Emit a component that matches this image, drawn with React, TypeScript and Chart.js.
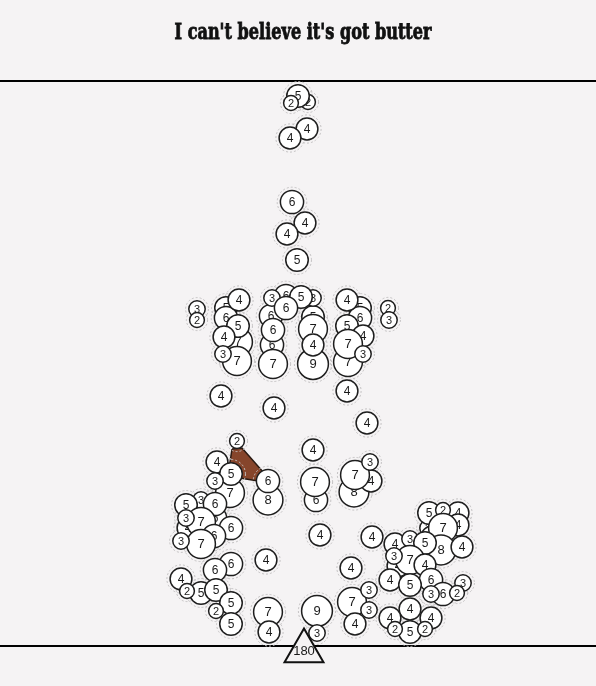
import { useEffect, useRef } from 'react';
import { Chart, registerables, BubbleController } from 'chart.js';

Chart.register(...registerables);

const TITLE = "I can't believe it's got butter";

// bubbles, in drawing order (x position, height above the base line, value shown)
const bubbleX = [
  308, 298, 291, 307, 290, 292, 305, 287, 297,
  286, 271, 313, 313, 272, 313, 272, 301, 286, 273, 273, 313, 313,
  197, 197, 238, 226, 226, 238, 239, 237, 224, 223,
  360, 360, 347, 347, 363, 348, 348, 363, 388, 389,
  221, 274, 347, 367, 313,
  237, 217, 230, 231, 215, 268, 268, 316, 315, 354, 371, 355, 370,
  201, 215, 186, 215, 188, 201, 186, 231, 214, 201, 181,
  320, 372, 266, 351,
  231, 215, 181, 201, 187, 216, 231, 216, 231, 268, 269, 317, 317,
  352, 369, 369, 355,
  458, 428, 432, 425, 429, 443, 458, 443, 441, 462, 395, 410, 425,
  398, 410, 394, 425, 390, 431, 410, 463, 443, 431, 457, 410, 390, 431, 410, 395, 425,
];
const bubbleY = [
  544, 550, 543, 517, 508, 444, 423, 412, 386,
  350, 330, 329, 317, 301, 348, 348, 349, 338, 316, 282, 282, 301,
  337, 326, 304, 338, 328, 320, 346, 285, 309, 292,
  338, 328, 346, 320, 310, 284, 302, 292, 338, 326,
  250, 238, 255, 223, 196,
  205, 184, 153, 172, 165, 146, 165, 146, 164, 154, 165, 171, 184,
  146, 128, 141, 142, 118, 124, 128, 118, 110, 102, 105,
  111, 109, 86, 78,
  82, 76, 67, 53, 55, 56, 43, 35, 22, 34, 14, 35, 13,
  44, 56, 36, 22,
  133, 118, 109, 92, 133, 136, 121, 118, 96, 99, 102, 107, 103,
  80, 86, 90, 81, 66, 66, 61, 63, 52, 52, 53, 37, 28, 28, 14, 17, 17,
];
const bubbleValue = [
  2, 5, 2, 4, 4, 6, 4, 4, 5,
  6, 6, 5, 7, 6, 3, 3, 5, 6, 6, 7, 9, 4,
  3, 2, 7, 5, 6, 5, 4, 7, 4, 3,
  5, 6, 4, 5, 4, 7, 7, 3, 2, 3,
  4, 4, 4, 4, 4,
  2, 4, 7, 5, 3, 8, 6, 6, 7, 8, 4, 7, 3,
  3, 6, 5, 6, 4, 7, 3, 6, 6, 7, 3,
  4, 4, 4, 4,
  6, 6, 4, 5, 2, 5, 5, 2, 5, 7, 4, 9, 3,
  7, 3, 3, 4,
  4, 3, 4, 6, 5, 2, 4, 7, 8, 4, 4, 3, 5,
  4, 7, 3, 4, 4, 6, 5, 3, 6, 3, 2, 4, 4, 4, 5, 2, 2,
];

// triangle marker on the base line
const markerX = [304];
const markerY = [-5];
const markerLabel = ['180'];

// brown shape
const shapeX = [232, 242, 264, 258, 240, 230, 232];
const shapeY = [197, 198, 173, 165, 168, 184, 197];

const BG = '#f5f3f4';

// bubble radius (px) by displayed value
function radiusFor(v: number) {
  if (v <= 2) return 7.4;
  if (v <= 3) return 8.2;
  if (v <= 6) return 10.9 + (v - 4) * 0.35;
  return 14.4 + (v - 7) * 0.5;
}
function fontFor(v: number) {
  if (v <= 3) return 11;
  if (v <= 6) return 12;
  return 13;
}

class LabeledBubbleController extends BubbleController {
  static id = 'labeledBubble';
  static defaults = { ...(BubbleController as any).defaults };
  static overrides = (BubbleController as any).overrides;
  draw() {
    const self: any = this;
    const chart = self.chart;
    const ctx: CanvasRenderingContext2D = chart.ctx;
    const meta = self._cachedMeta;
    const ds: any = self.getDataset();
    const area = chart.chartArea;
    const els: any[] = meta.data;
    if (ds.halo) {
      ctx.save();
      ctx.setLineDash([2, 2]);
      ctx.lineWidth = 1;
      ctx.strokeStyle = '#c4c2c3';
      els.forEach((el) => {
        const r = el.options.radius;
        ctx.beginPath();
        ctx.arc(el.x, el.y, r + 3.2, 0, Math.PI * 2);
        ctx.stroke();
      });
      ctx.restore();
    }
    els.forEach((el, i) => {
      el.draw(ctx, area);
      const lab = ds.valueLabels[i];
      const size = ds.labelSize ? ds.labelSize : fontFor(Number(lab));
      ctx.save();
      ctx.fillStyle = '#1a1a1a';
      ctx.font = `${size}px "Liberation Sans", Arial, sans-serif`;
      ctx.textAlign = 'center';
      ctx.textBaseline = 'middle';
      ctx.fillText(String(lab), el.x, el.y + (ds.labelDy || 0.5));
      ctx.restore();
    });
  }
}
Chart.register(LabeledBubbleController as any);

const framePlugin = {
  id: 'frame',
  beforeDraw(chart: any) {
    const { ctx, width, height } = chart;
    ctx.save();
    ctx.fillStyle = BG;
    ctx.fillRect(0, 0, width, height);
    ctx.restore();
  },
  beforeDatasetsDraw(chart: any) {
    const { ctx, chartArea, width } = chart;
    ctx.save();
    ctx.fillStyle = '#000';
    ctx.fillRect(0, chartArea.top - 1, width, 2);
    ctx.fillRect(0, chartArea.bottom - 1, width, 2);
    ctx.restore();
  },
  afterDraw(chart: any) {
    const { ctx, width } = chart;
    ctx.save();
    ctx.fillStyle = '#111';
    ctx.strokeStyle = '#111';
    ctx.lineWidth = 0.8;
    ctx.font = 'bold 22px "DejaVu Serif Condensed", "DejaVu Serif", serif';
    ctx.textAlign = 'center';
    ctx.textBaseline = 'alphabetic';
    const w = ctx.measureText(TITLE).width;
    const sx = 257 / w;
    ctx.translate(width / 2 + 5, 39);
    ctx.scale(sx, 1);
    ctx.fillText(TITLE, 0, 0);
    ctx.strokeText(TITLE, 0, 0);
    ctx.restore();
  },
};

export default function App() {
  const ref = useRef<HTMLCanvasElement>(null);
  useEffect(() => {
    document.body.style.margin = '0';
    document.body.style.background = BG;
    const bubbles = bubbleX.map((x, i) => ({ x, y: bubbleY[i], r: radiusFor(bubbleValue[i]) }));
    const markers = markerX.map((x, i) => ({ x, y: markerY[i], r: 22.5 }));
    const shape = shapeX.map((x, i) => ({ x, y: shapeY[i] }));
    const chart = new Chart(ref.current as HTMLCanvasElement, {
      type: 'labeledBubble' as any,
      data: {
        datasets: [
          {
            type: 'labeledBubble',
            data: markers,
            valueLabels: markerLabel,
            halo: false,
            labelSize: 13,
            labelDy: 0,
            pointStyle: 'triangle',
            backgroundColor: BG,
            borderColor: '#111',
            borderWidth: 2,
            clip: false,
            order: 0,
          } as any,
          {
            type: 'labeledBubble',
            data: bubbles,
            valueLabels: bubbleValue,
            halo: true,
            backgroundColor: '#ffffff',
            borderColor: '#1e1e1e',
            borderWidth: 1.5,
            clip: false,
            order: 1,
          } as any,
          {
            type: 'line',
            data: shape,
            fill: 'shape',
            backgroundColor: '#86452b',
            borderColor: '#2a1a12',
            borderWidth: 1.5,
            pointRadius: 0,
            tension: 0,
            clip: false,
            order: 2,
          } as any,
        ],
      },
      options: {
        animation: false,
        responsive: true,
        maintainAspectRatio: false,
        events: [],
        layout: { autoPadding: false, padding: { left: 0, right: 0, top: 81, bottom: 40 } },
        scales: {
          x: { type: 'linear', min: 0, max: 596, display: false },
          y: { type: 'linear', min: 0, max: 565, display: false },
        },
        plugins: {
          legend: { display: false },
          tooltip: { enabled: false },
          title: { display: false, text: TITLE },
        },
      } as any,
      plugins: [framePlugin],
    });
    return () => chart.destroy();
  }, []);
  return (
    <div style={{ position: 'fixed', left: 0, top: 0, width: 596, height: 686, background: BG }}>
      <canvas ref={ref} />
    </div>
  );
}
